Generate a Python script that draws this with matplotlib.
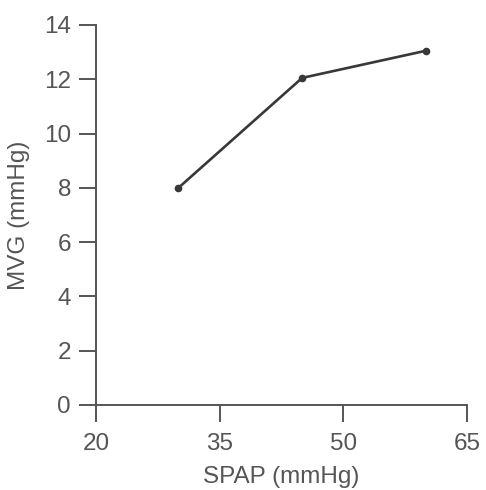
import matplotlib
matplotlib.use('Agg')
import matplotlib.pyplot as plt

# data
spap = [30, 45, 60]
mvg = [8, 12.05, 13.05]
x_ticks = [20, 35, 50, 65]
y_ticks = [0, 2, 4, 6, 8, 10, 12, 14]

plt.rcParams['font.family'] = ['Liberation Sans', 'DejaVu Sans']

fig = plt.figure(figsize=(4.86, 4.9), dpi=100)
ax = fig.add_axes([0.1975, 0.1735, 0.7635, 0.7755])

ax.plot(spap, mvg, color='#383838', linewidth=1.9, marker='o', markersize=4.5)

ax.set_xlim(20, 65)
ax.set_ylim(0, 14)
ax.set_xticks(x_ticks)
ax.set_yticks(y_ticks)

for side in ['top', 'right']:
    ax.spines[side].set_visible(False)
for side in ['left', 'bottom']:
    ax.spines[side].set_color('#555555')
    ax.spines[side].set_linewidth(1.4)

ax.tick_params(direction='out', length=12, width=1.4, color='#555555',
               labelsize=17.5, labelcolor='#555555', pad=6)
ax.tick_params(axis='x', pad=8)

ax.set_xlabel('SPAP (mmHg)', fontsize=17.5, color='#555555', labelpad=8)
ax.set_ylabel('MVG (mmHg)', fontsize=17.5, color='#555555', labelpad=10)

fig.savefig('out.png', dpi=100)
